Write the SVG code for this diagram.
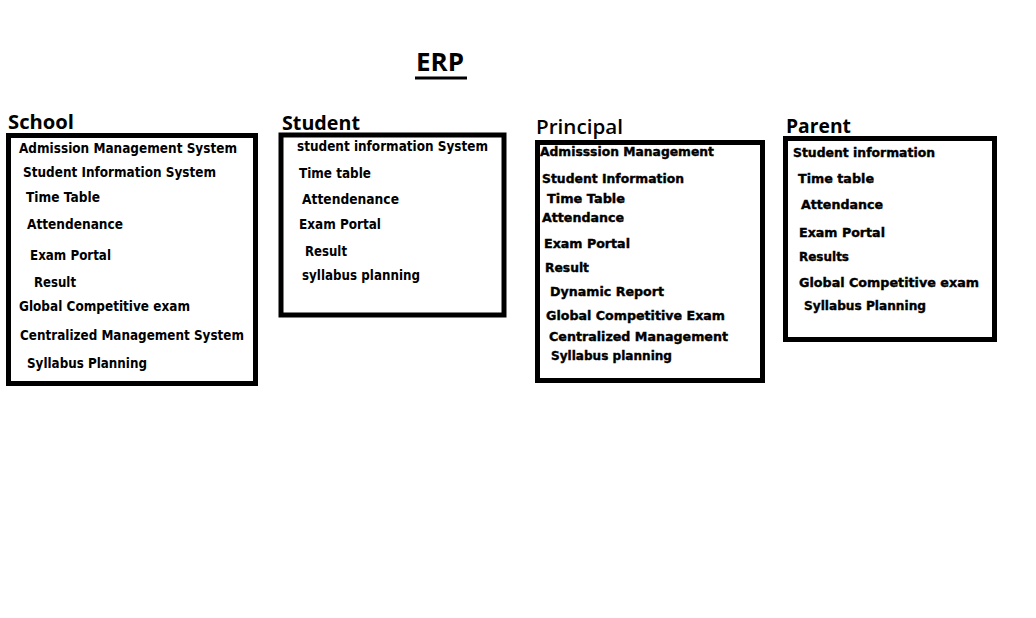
<svg xmlns="http://www.w3.org/2000/svg" width="1036" height="618" viewBox="0 0 1036 618">
<style>
.box{fill:none;stroke:#000;stroke-width:5}
.hd{font-family:"Open Sans","Liberation Sans",sans-serif;font-weight:bold;font-size:20px;fill:#000}
.t{font-family:"DejaVu Sans","Liberation Sans",sans-serif;font-weight:bold;font-size:14px;fill:#000}
.g{font-family:"DejaVu Sans","Liberation Sans",sans-serif;font-weight:bold;font-size:13px;fill:#000;stroke:#000;stroke-width:0.4}
</style>
<rect width="1036" height="618" fill="#fff"/>
<g id="title">
<text x="416" y="71" class="hd" style="font-size:25px" textLength="48" lengthAdjust="spacingAndGlyphs">ERP</text>
<rect x="415" y="76.5" width="52" height="3" fill="#000"/>
</g>
<g id="school">
<text x="8" y="129" class="hd" textLength="66" lengthAdjust="spacingAndGlyphs">School</text>
<rect class="box" x="8.5" y="135.5" width="247" height="248"/>
<text class="t" x="19" y="152.5" textLength="218" lengthAdjust="spacingAndGlyphs">Admission Management System</text>
<text class="t" x="23" y="177" textLength="193" lengthAdjust="spacingAndGlyphs">Student Information System</text>
<text class="t" x="26" y="202" textLength="74" lengthAdjust="spacingAndGlyphs">Time Table</text>
<text class="t" x="27" y="229" textLength="96" lengthAdjust="spacingAndGlyphs">Attendenance</text>
<text class="t" x="30" y="260" textLength="81" lengthAdjust="spacingAndGlyphs">Exam Portal</text>
<text class="t" x="34" y="287" textLength="42" lengthAdjust="spacingAndGlyphs">Result</text>
<text class="t" x="19" y="311" textLength="171" lengthAdjust="spacingAndGlyphs">Global Competitive exam</text>
<text class="t" x="20" y="340" textLength="224" lengthAdjust="spacingAndGlyphs">Centralized Management System</text>
<text class="t" x="27" y="368" textLength="120" lengthAdjust="spacingAndGlyphs">Syllabus Planning</text>
</g>
<g id="student">
<text x="282" y="130" class="hd" textLength="78" lengthAdjust="spacingAndGlyphs">Student</text>
<rect class="box" x="281" y="135" width="223" height="180"/>
<text class="t" x="297" y="151" textLength="191" lengthAdjust="spacingAndGlyphs">student information System</text>
<text class="t" x="299" y="178" textLength="72" lengthAdjust="spacingAndGlyphs">Time table</text>
<text class="t" x="302" y="204" textLength="97" lengthAdjust="spacingAndGlyphs">Attendenance</text>
<text class="t" x="299" y="229" textLength="82" lengthAdjust="spacingAndGlyphs">Exam Portal</text>
<text class="t" x="305" y="256" textLength="42" lengthAdjust="spacingAndGlyphs">Result</text>
<text class="t" x="302" y="280" textLength="118" lengthAdjust="spacingAndGlyphs">syllabus planning</text>
</g>
<g id="principal">
<text x="536" y="134" class="hd" style="font-weight:600" textLength="87" lengthAdjust="spacingAndGlyphs">Principal</text>
<rect class="box" x="537.5" y="142.5" width="225" height="238"/>
<text class="g" x="540" y="156" textLength="174" lengthAdjust="spacingAndGlyphs">Admisssion Management</text>
<text class="g" x="542" y="183" textLength="142" lengthAdjust="spacingAndGlyphs">Student Information</text>
<text class="g" x="547" y="203" textLength="78" lengthAdjust="spacingAndGlyphs">Time Table</text>
<text class="g" x="542" y="222" textLength="82" lengthAdjust="spacingAndGlyphs">Attendance</text>
<text class="g" x="544" y="248" textLength="86" lengthAdjust="spacingAndGlyphs">Exam Portal</text>
<text class="g" x="545" y="272" textLength="44" lengthAdjust="spacingAndGlyphs">Result</text>
<text class="g" x="550" y="296" textLength="114" lengthAdjust="spacingAndGlyphs">Dynamic Report</text>
<text class="g" x="546" y="320" textLength="179" lengthAdjust="spacingAndGlyphs">Global Competitive Exam</text>
<text class="g" x="549" y="341" textLength="179" lengthAdjust="spacingAndGlyphs">Centralized Management</text>
<text class="g" x="551" y="360" textLength="121" lengthAdjust="spacingAndGlyphs">Syllabus planning</text>
</g>
<g id="parent">
<text x="786" y="133" class="hd" textLength="65" lengthAdjust="spacingAndGlyphs">Parent</text>
<rect class="box" x="785.5" y="138.5" width="209" height="201"/>
<text class="g" x="793" y="157" textLength="142" lengthAdjust="spacingAndGlyphs">Student information</text>
<text class="g" x="798" y="183" textLength="76" lengthAdjust="spacingAndGlyphs">Time table</text>
<text class="g" x="801" y="209" textLength="82" lengthAdjust="spacingAndGlyphs">Attendance</text>
<text class="g" x="799" y="237" textLength="86" lengthAdjust="spacingAndGlyphs">Exam Portal</text>
<text class="g" x="799" y="261" textLength="50" lengthAdjust="spacingAndGlyphs">Results</text>
<text class="g" x="799" y="287" textLength="180" lengthAdjust="spacingAndGlyphs">Global Competitive exam</text>
<text class="g" x="804" y="310" textLength="122" lengthAdjust="spacingAndGlyphs">Syllabus Planning</text>
</g>
<g id="connectors"></g>
</svg>
